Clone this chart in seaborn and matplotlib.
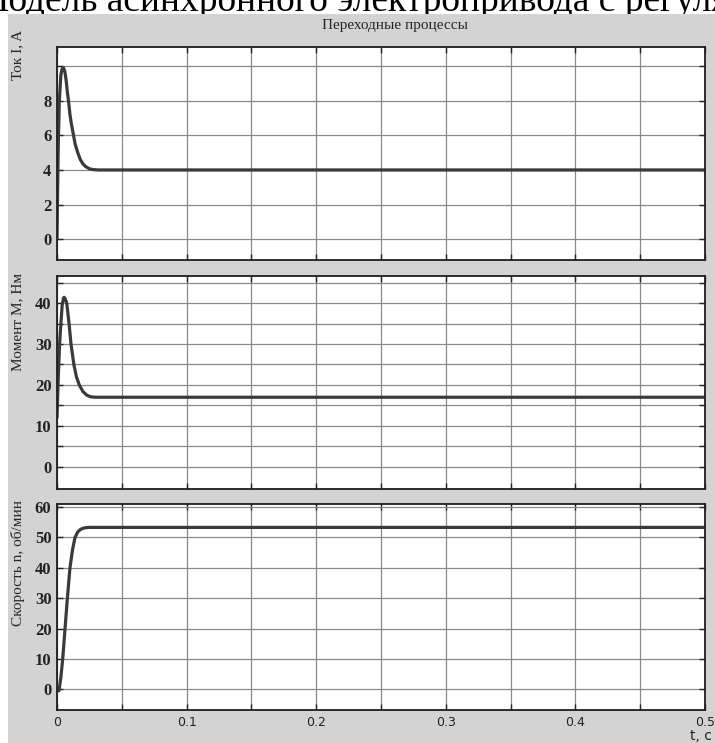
"""
Transient processes of an induction motor drive: current, torque, speed.
Three stacked panels in a MATLAB-scope look.
"""

import matplotlib
matplotlib.use("Agg")

import matplotlib.pyplot as plt
import seaborn as sns
from matplotlib.patches import Rectangle

# ──────────────────────────────────────────────
# DATA
# ──────────────────────────────────────────────

t_current = [0, 0.0005, 0.001, 0.0018, 0.003, 0.004, 0.005, 0.006, 0.007, 0.008,
             0.009, 0.010, 0.011, 0.012, 0.013, 0.014, 0.016, 0.018, 0.020,
             0.022, 0.025, 0.028, 0.032, 0.5]
current = [0, 3.0, 5.5, 8.0, 9.5, 9.85, 9.9, 9.7, 9.2, 8.5,
           7.9, 7.2, 6.7, 6.3, 5.9, 5.5, 5.0, 4.6, 4.35,
           4.2, 4.07, 4.02, 4.0, 4.0]

t_torque = [0, 0.001, 0.002, 0.003, 0.004, 0.005, 0.0055, 0.006, 0.007, 0.0075,
            0.0093, 0.0108, 0.013, 0.015, 0.0172, 0.020, 0.023, 0.026, 0.030, 0.5]
torque = [12, 22, 30, 35, 39.5, 41.2, 41.4, 41.2, 40.5, 40,
          35, 30, 25, 22, 20, 18.4, 17.5, 17.1, 17.0, 17.0]

t_speed = [0, 0.0015, 0.002, 0.003, 0.0044, 0.0062, 0.008, 0.010, 0.012, 0.0139,
           0.016, 0.018, 0.020, 0.022, 0.025, 0.030, 0.5]
speed = [0, -0.5, 1.0, 4.0, 10, 20, 30, 40, 46, 50,
         51.8, 52.6, 53.0, 53.2, 53.3, 53.3, 53.3]

x_ticks = [0, 0.1, 0.2, 0.3, 0.4, 0.5]
x_grid = [0.05 * i for i in range(11)]

y_ticks_current = [0, 2, 4, 6, 8, 10]
y_labels_current = ["0", "2", "4", "6", "8", ""]
y_ticks_torque = [0, 5, 10, 15, 20, 25, 30, 35, 40, 45]
y_labels_torque = ["0", "", "10", "", "20", "", "30", "", "40", ""]
y_ticks_speed = [0, 10, 20, 30, 40, 50, 60]
y_labels_speed = ["0", "10", "20", "30", "40", "50", "60"]

# ──────────────────────────────────────────────
# STYLE
# ──────────────────────────────────────────────

sns.set_theme(style="white")
plt.rcParams["font.family"] = ["Liberation Serif", "DejaVu Serif"]

W, H = 715, 743
GRAY_BG = "#d3d3d3"
LINE_COLOR = "#3a3a3a"
SERIF = "Liberation Serif"

fig = plt.figure(figsize=(W / 100, H / 100), dpi=100)
fig.patch.set_facecolor("white")

# gray scope background (leaves a white strip at top and left)
fig.patches.append(Rectangle((8 / W, 0), 1, 1 - 14 / H, transform=fig.transFigure,
                             facecolor=GRAY_BG, edgecolor="none", zorder=-1))

# document heading above the scope (cut by the page edge, as in the screenshot)
fig.text(-24 / W, 1 - 11 / H, "Модель асинхронного электропривода с регулятором",
         fontsize=27, family=SERIF, color="black", va="baseline", ha="left", zorder=-2)


def px_axes(left, top, right, bottom):
    return fig.add_axes([left / W, 1 - bottom / H, (right - left) / W, (bottom - top) / H])


def style_axes(ax, yticks, ylabels, ylim, show_x):
    ax.set_facecolor("white")
    ax.set_xlim(0, 0.5)
    ax.set_ylim(*ylim)
    ax.set_xticks(x_grid)
    ax.set_xticklabels([])
    ax.set_yticks(yticks)
    ax.set_yticklabels(ylabels, fontfamily=SERIF, fontsize=12, fontweight="bold",
                       color="#222222")
    ax.grid(True, color="#8a8a8a", linewidth=0.9)
    ax.tick_params(direction="in", length=4, width=1, color="#222222",
                   top=True, right=True, left=True, bottom=True, pad=4)
    for s in ax.spines.values():
        s.set_color("#1e1e1e")
        s.set_linewidth(1.3)
    ax.set_xlabel("")
    ax.set_ylabel("")
    if show_x:
        labels = [("%g" % v) if any(abs(v - x) < 1e-9 for x in x_ticks) else "" for v in x_grid]
        ax.set_xticklabels(labels, fontfamily="DejaVu Sans", fontsize=9, color="#222222")


ax1 = px_axes(57, 47, 705, 260)
ax2 = px_axes(57, 276, 705, 489)
ax3 = px_axes(57, 504, 705, 710)

sns.lineplot(x=t_current, y=current, ax=ax1, color=LINE_COLOR, linewidth=2.3)
sns.lineplot(x=t_torque, y=torque, ax=ax2, color=LINE_COLOR, linewidth=2.3)
sns.lineplot(x=t_speed, y=speed, ax=ax3, color=LINE_COLOR, linewidth=2.3)

style_axes(ax1, y_ticks_current, y_labels_current, (-1.2, 11.1), False)
style_axes(ax2, y_ticks_torque, y_labels_torque, (-5.4, 46.6), False)
style_axes(ax3, y_ticks_speed, y_labels_speed, (-6.8, 61.0), True)

# titles and axis labels
fig.text(395 / W, 1 - 26 / H, "Переходные процессы", fontsize=11, family=SERIF,
         ha="center", va="center")
fig.text(18 / W, 1 - 30 / H, "Ток I, A", fontsize=11, family=SERIF,
         rotation=90, ha="center", va="top")
fig.text(18 / W, 1 - 273 / H, "Момент M, Нм", fontsize=11, family=SERIF,
         rotation=90, ha="center", va="top")
fig.text(18 / W, 1 - 500 / H, "Скорость n, об/мин", fontsize=11, family=SERIF,
         rotation=90, ha="center", va="top")
fig.text(712 / W, 1 - 740 / H, "t, c", fontsize=10, family="DejaVu Sans",
         ha="right", va="baseline")

fig.savefig("out.png", dpi=100)
plt.close(fig)
